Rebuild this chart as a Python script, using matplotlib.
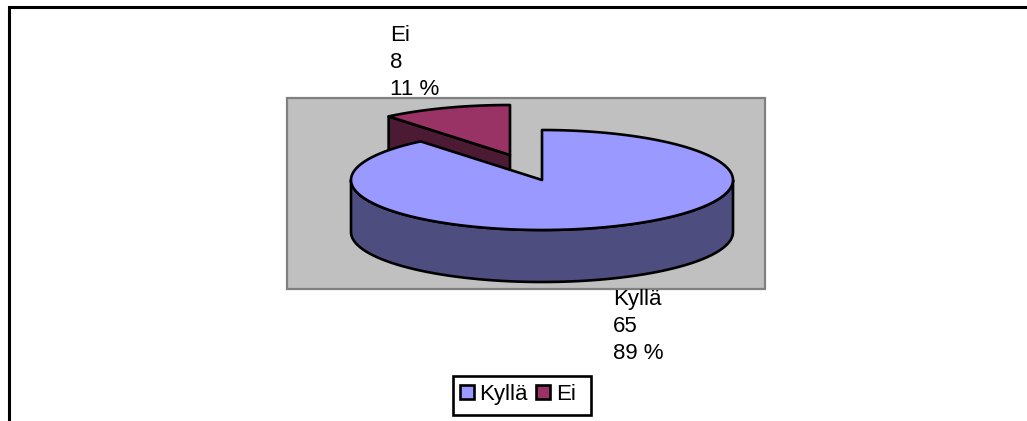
import numpy as np
import matplotlib
matplotlib.use("Agg")
import matplotlib.pyplot as plt
from matplotlib.patches import Polygon, Rectangle

plt.rcParams["font.family"] = ["Liberation Sans", "DejaVu Sans"]

categories = ["Kyllä", "Ei"]
values = [65, 8]
percent_labels = ["89 %", "11 %"]
top_colors = ["#9999FF", "#993366"]
side_colors = ["#4D4D80", "#4D1A33"]

W, H = 1027, 421
fig = plt.figure(figsize=(W / 100, H / 100), dpi=100, facecolor="white")
ax = fig.add_axes([0, 0, 1, 1])
ax.set_xlim(0, W)
ax.set_ylim(H, 0)
ax.axis("off")

LW = 1.9
RX, RY, DEPTH = 191, 50, 52
CX, CY = 542, 180
EXPLODE = (-32, -25)


def rim(cx, cy, a0, a1, n=200):
    """Points on the elliptical rim; angles run clockwise from 12 o'clock."""
    t = np.radians(np.linspace(a0, a1, n))
    return np.column_stack([cx + RX * np.sin(t), cy - RY * np.cos(t)])


def add_poly(pts, color, z):
    ax.add_patch(Polygon(pts, closed=True, facecolor=color, edgecolor="black",
                         linewidth=LW, joinstyle="round", zorder=z))


# Outer frame: only the top and left edges are in view
ax.plot([9, 9, W], [H, 7, 7], color="black", lw=2.2, solid_joinstyle="miter",
        solid_capstyle="butt", zorder=1)

# Plot area
ax.add_patch(Rectangle((287, 98), 478, 191, facecolor="#C0C0C0",
                       edgecolor="#808080", linewidth=1.6, zorder=1))

sweep = 360 * values[0] / sum(values)

# Exploded slice, drawn first so the large slice overlaps it
ex, ey = CX + EXPLODE[0], CY + EXPLODE[1]
edge = rim(ex, ey, sweep, sweep, 1)[0]
add_poly([(ex, ey), edge, (edge[0], edge[1] + DEPTH), (ex, ey + DEPTH)],
         side_colors[1], 2)
add_poly(np.vstack([[(ex, ey)], rim(ex, ey, sweep, 360)]), top_colors[1], 3)

# Large slice: visible wall along the front, then the top face
front = rim(CX, CY, 90, 270)
wall = np.vstack([front, (front + [0, DEPTH])[::-1]])
add_poly(wall, side_colors[0], 4)
add_poly(np.vstack([[(CX, CY)], rim(CX, CY, 0, sweep)]), top_colors[0], 5)

# Data labels
label_style = dict(fontsize=16, color="black", ha="left", va="baseline", zorder=6)
for i, (tx, ty) in enumerate([(613, 305), (390, 41)]):
    for k, line in enumerate([categories[i], str(values[i]), percent_labels[i]]):
        ax.text(tx, ty + 27 * k, line, **label_style)

# Legend: the box is wider than its entries, so it is drawn separately
ax.add_patch(Rectangle((452.5, 375.5), 138, 39.5, facecolor="white",
                       edgecolor="black", linewidth=LW, zorder=6))
handles = [Rectangle((0, 0), 1, 1, facecolor=c, edgecolor="black", linewidth=LW)
           for c in top_colors]
leg = ax.legend(handles, categories, loc="center left", ncol=2,
                bbox_to_anchor=(460, 394.5), bbox_transform=ax.transData,
                fontsize=16, frameon=False, handlelength=0.63, handleheight=0.63,
                handletextpad=0.25, columnspacing=0.37, borderpad=0,
                borderaxespad=0)
leg.set_zorder(7)

fig.savefig("out.png", dpi=100)
